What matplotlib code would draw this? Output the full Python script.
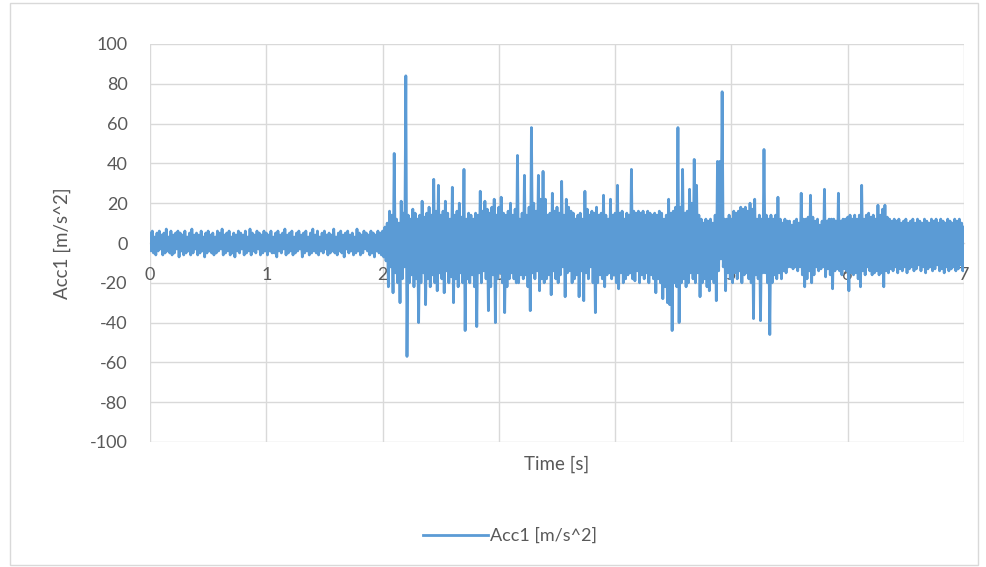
import matplotlib
matplotlib.use("Agg")
import matplotlib.pyplot as plt
from matplotlib.patches import Rectangle
import numpy as np

plt.rcParams['font.family'] = ['Lato', 'DejaVu Sans']
plt.rcParams['axes.unicode_minus'] = False

# Sampling: one value every 0.01 s from 0 to 7 s
t_start = 0.0
t_step = 0.01

acc_0_05 = [5,-4,6,-5,3,-6,5,-4,6,-3, 4,-6,5,-5,7,-4,3,-5,6,-6, 4,-5,5,-3,6,-7,5,-4,4,-6,
            6,-5,3,-4,5,-6,7,-5,4,-3, 5,-6,4,-5,6,-4,3,-7,5,-5]
acc_05_1 = [6,-4,4,-5,5,-6,3,-5,6,-4, 5,-3,7,-6,4,-5,5,-4,6,-6, 3,-5,5,-7,4,-4,6,-5,5,-3,
            4,-6,6,-5,3,-4,7,-6,5,-4, 4,-5,6,-3,5,-6,4,-5,6,-4]
acc_1_15 = [5,-6,4,-4,6,-5,3,-5,5,-7, 6,-4,4,-5,5,-3,7,-6,4,-5, 5,-4,6,-6,3,-5,5,-4,6,-3,
            4,-7,5,-5,6,-4,3,-6,5,-5, 7,-4,4,-5,6,-6,3,-4,5,-5]
acc_15_2 = [6,-3,4,-6,5,-5,4,-4,7,-5, 3,-6,5,-4,6,-5,4,-7,5,-3, 6,-5,4,-4,5,-6,3,-5,7,-4,
            5,-6,4,-5,6,-3,5,-4,4,-6, 6,-5,5,-7,4,-4,6,-5,5,-6]
acc_2_25 = [6,-7,8,-9,10,-22,16,-12,14,-25, 45,-15,12,-20,10,-30,21,-18,15,-12,
            84,-57,14,-20,12,-16,17,-22,15,-18, 12,-40,14,-20,21,-15,13,-31,15,-18,
            18,-22,14,-16,32,-20,16,-24,29,-15]
acc_25_3 = [14,-18,16,-25,21,-14,15,-20,12,-17, 28,-30,14,-18,16,-22,20,-15,13,-20,
            37,-44,12,-18,15,-20,14,-16,12,-22, 15,-42,14,-15,26,-20,16,-14,21,-18,
            17,-34,15,-22,18,-16,22,-40,14,-18]
acc_3_35 = [18,-15,23,-20,15,-35,14,-22,16,-18, 20,-15,14,-18,17,-20,44,-20,12,-16,
            15,-18,34,-16,14,-22,18,-34,58,-15, 20,-18,16,-14,34,-24,22,-18,36,-20,
            22,-18,14,-16,15,-26,25,-14,16,-18]
acc_35_4 = [18,-20,15,-16,31,-12,14,-27,22,-15, 18,-14,16,-20,15,-18,12,-16,14,-27,
            15,-14,12,-29,26,-15,17,-18,14,-12, 16,-20,15,-35,18,-20,14,-16,15,-18,
            24,-22,14,-16,12,-15,22,-18,14,-16]
acc_4_45 = [15,-20,29,-23,15,-15,16,-20,12,-18, 15,-16,14,-15,37,-18,16,-19,15,-14,
            16,-20,15,-16,16,-18,14,-15,16,-20, 15,-16,14,-18,15,-25,14,-18,16,-20,
            15,-28,12,-22,14,-30,22,-31,15,-44]
acc_45_5 = [16,-20,18,-22,58,-40,18,-20,37,-18, 15,-22,16,-20,27,-15,20,-18,42,-20,
            29,-15,14,-27,12,-20,10,-18,12,-22, 11,-24,12,-18,10,-20,14,-29,41,-14,
            41,-8,76,-12,12,-24,12,-15,14,-18]
acc_5_55 = [12,-20,16,-15,15,-18,16,-14,18,-20, 17,-16,18,-15,16,-18,20,-20,17,-38,
            22,-16,12,-18,14,-39,12,-15,47,-15, 14,-20,12,-46,14,-20,12,-16,14,-18,
            23,-15,12,-18,10,-14,12,-15,11,-12]
acc_55_6 = [11,-12,9,-13,11,-12,12,-14,10,-12, 25,-16,12,-22,12,-18,13,-14,24,-20,
            13,-16,11,-12,12,-14,9,-13,11,-12, 27,-17,11,-13,12,-16,12,-23,12,-14,
            11,-13,25,-14,11,-16,12,-13,12,-14]
acc_6_65 = [13,-24,14,-15,12,-16,14,-15,12,-18, 14,-22,29,-14,12,-16,14,-12,15,-14,
            13,-16,14,-15,12,-14,19,-16,14,-15, 17,-22,19,-14,13,-15,12,-13,11,-14,
            12,-12,11,-15,12,-13,10,-14,11,-12]
acc_65_7 = [12,-15,10,-13,11,-12,12,-14,10,-13, 12,-11,11,-14,10,-12,12,-15,11,-13,
            10,-12,12,-14,11,-13,12,-11,10,-14, 12,-13,11,-15,10,-12,12,-14,11,-13,
            10,-12,12,-14,11,-13,12,-11,10,-14, 8]

acc = (acc_0_05 + acc_05_1 + acc_1_15 + acc_15_2 + acc_2_25 + acc_25_3 + acc_3_35
       + acc_35_4 + acc_4_45 + acc_45_5 + acc_5_55 + acc_55_6 + acc_6_65 + acc_65_7)
time = t_start + t_step * np.arange(len(acc))

x_ticks = [0, 1, 2, 3, 4, 5, 6, 7]
y_ticks = [-100, -80, -60, -40, -20, 0, 20, 40, 60, 80, 100]
series_name = "Acc1 [m/s^2]"
x_title = "Time [s]"
y_title = "Acc1 [m/s^2]"

W, H = 987, 567
fig = plt.figure(figsize=(W / 100, H / 100), dpi=100)
fig.patch.set_facecolor('white')

# outer chart border
fig.patches.append(Rectangle((10 / W, 2 / H), 968 / W, 562 / H, transform=fig.transFigure,
                             fill=False, edgecolor='#d9d9d9', linewidth=1.0))

ax = fig.add_axes([150 / W, 1 - 442 / H, 814 / W, 398 / H])
line, = ax.plot(time, acc, color='#5b9bd5', linewidth=2.0, label=series_name,
                solid_joinstyle='round', zorder=3)

ax.set_xlim(0, 7)
ax.set_ylim(-100, 100)
ax.set_xticks(x_ticks)
ax.set_yticks(y_ticks)
ax.grid(True, color='#d9d9d9', linewidth=1.0, zorder=0)
ax.set_axisbelow(True)

for s in ['top', 'right', 'left']:
    ax.spines[s].set_visible(False)
ax.spines['bottom'].set_position(('data', 0))
ax.spines['bottom'].set_color('#d9d9d9')
ax.spines['bottom'].set_linewidth(1.0)
ax.spines['bottom'].set_zorder(0)

ax.tick_params(axis='x', length=0, pad=17, labelsize=13, labelcolor='#595959')
ax.tick_params(axis='y', length=0, pad=16, labelsize=13, labelcolor='#595959')

fig.text(557 / W, 1 - 464 / H, x_title, ha='center', va='center', fontsize=13.5, color='#595959')
fig.text(62 / W, 1 - 243 / H, y_title, ha='center', va='center', rotation=90, fontsize=13.5, color='#595959')

leg = fig.legend(handles=[line], loc='center', bbox_to_anchor=(510 / W, 1 - 536 / H),
                 frameon=False, fontsize=13, handlelength=3.6, handletextpad=0.1)
for txt in leg.get_texts():
    txt.set_color('#595959')

fig.savefig('out.png', dpi=100, facecolor='white')
